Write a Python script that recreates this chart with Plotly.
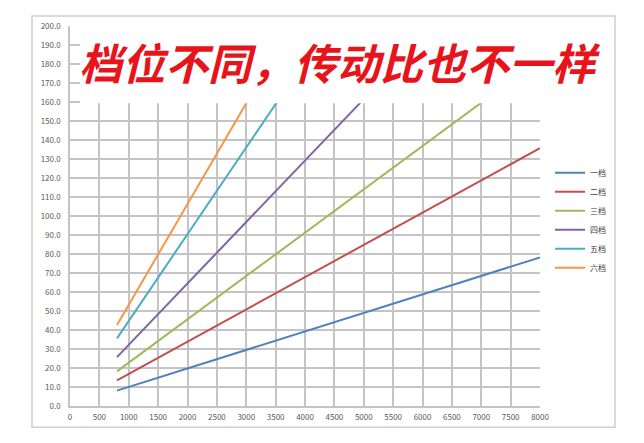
import plotly.graph_objects as go

# ---- data ----
rpm = [800, 2000, 3000, 4000, 5000, 6000, 7000, 8000]
gear_names = ["一档", "二档", "三档", "四档", "五档", "六档"]
gear1 = [8.1, 19.8, 29.5, 39.3, 49.0, 58.7, 68.5, 78.2]
gear2 = [13.5, 33.9, 50.8, 67.8, 84.8, 101.7, 118.7, 135.7]
gear3 = [18.2, 45.6, 68.4, 91.2, 114.0, 136.8, 159.7, 182.5]
gear4 = [25.7, 64.5, 96.8, 129.2, 161.5, 193.9, 226.2, 258.5]
gear5 = [35.6, 90.4, 136.1, 181.8, 227.5, 273.2, 318.8, 364.5]
gear6 = [42.6, 106.3, 159.3, 212.4, 265.4, 318.5, 371.5, 424.6]
series = [gear1, gear2, gear3, gear4, gear5, gear6]
colors = ["#4F81BD", "#C0504D", "#9BBB59", "#8064A2", "#4BACC6", "#F79646"]
title_text = "档位不同，传动比也不一样"

OFF = 8  # page body margin
W, H = 644 - OFF, 443 - OFF
# plot area in page pixels: x 70..540, y 23..406.5
PL, PR, PT, PB = 70, 540, 23, 406.5
L = PL - OFF
T = PT - OFF
R = W - (PR - OFF)
B = H - (PB - OFF)
pw = PR - PL
ph = PB - PT

def px(xp):
    return (xp - PL) / pw

def py(yp):
    return (PB - yp) / ph

fig = go.Figure()
for name, vals, c in zip(gear_names, series, colors):
    fig.add_trace(go.Scatter(x=rpm, y=vals, mode="lines", name=name,
                             line=dict(color=c, width=2)))

fig.update_layout(
    width=W, height=H,
    margin=dict(l=L, r=R, t=T, b=B),
    paper_bgcolor="white", plot_bgcolor="white",
    font=dict(family="Noto Sans CJK SC", size=8, color="#595959"),
    showlegend=True,
    legend=dict(x=px(550), y=py(219), xanchor="left", yanchor="middle",
                font=dict(size=8, color="#404040"), bgcolor="rgba(0,0,0,0)",
                itemwidth=30, tracegroupgap=0),
    xaxis=dict(range=[0, 8000], dtick=500, tick0=0, showgrid=True,
               gridcolor="#c4c4c4", gridwidth=1.5, zeroline=False,
               showline=True, linecolor="#c4c4c4", linewidth=1.5,
               ticks="", ticklabelstandoff=3,
               tickfont=dict(size=8, color="#595959")),
    yaxis=dict(range=[0, 200], dtick=10, tick0=0, showgrid=True,
               gridcolor="#c4c4c4", gridwidth=1.5, zeroline=False,
               showline=True, linecolor="#c4c4c4", linewidth=1.5,
               tickformat=".1f", ticks="", ticklabelstandoff=6,
               tickfont=dict(size=8, color="#595959")),
)

# white title box covering the upper part of the plot
fig.add_shape(type="rect", xref="paper", yref="y",
              x0=px(80), x1=px(548), y0=159.3, y1=202,
              fillcolor="white", line=dict(width=0), layer="above")
# outer chart frame
fig.add_shape(type="rect", xref="paper", yref="paper",
              x0=px(32), x1=px(615), y0=py(428), y1=py(13),
              line=dict(color="#d0d0d0", width=1.5), fillcolor="rgba(0,0,0,0)",
              layer="below")

fig.add_annotation(xref="paper", yref="paper", x=px(340), y=py(58),
                   text="<b><i>" + title_text + "</i></b>", showarrow=False,
                   font=dict(family="Noto Sans CJK SC", size=43, color="#E8141C"),
                   xanchor="center", yanchor="middle")

fig.write_html("out.html")
